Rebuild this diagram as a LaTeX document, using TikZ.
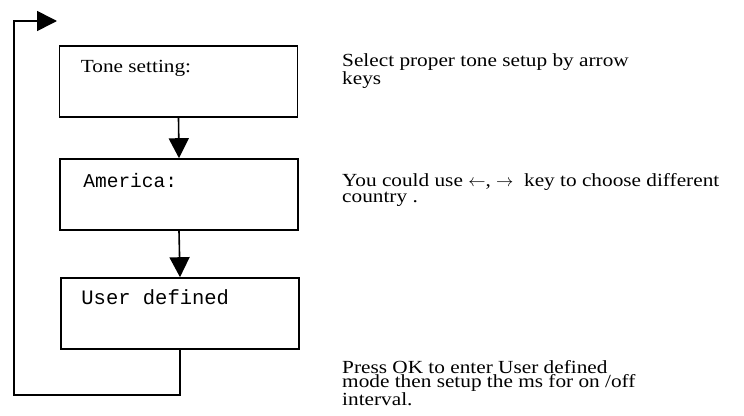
\documentclass[tikz,border=0pt]{standalone}
\usepackage{fontspec}
\setmainfont{Liberation Serif}[FakeStretch=1.15]
\setmonofont{Liberation Mono}
\usetikzlibrary{calc,arrows.meta}

\begin{document}
\begin{tikzpicture}[x=1pt,y=-1pt,
        menubox/.style={draw, line width=1.6pt, minimum width=238pt, minimum height=71pt, inner sep=0pt},
        flow/.style={line width=1.6pt, -{Triangle[length=20pt,width=20pt]}},
        boxtxt/.style={anchor=base west, inner sep=0pt},
        note/.style={anchor=base west, inner sep=0pt, align=left, font=\fontsize{18.5}{14}\selectfont}]
            \useasboundingbox (0,0) rectangle (744,415);

            \node (tone) at (178.5,81.5) [menubox] {};
            \node (america) at (179,194.5) [menubox] {};
            \node (user) at (180,313.5) [menubox] {};

            \node (tonetxt) at ($(tone.north west) + (22,27)$) [boxtxt, font=\fontsize{18.5}{13}\selectfont] {Tone setting:};
            \node (americatxt) at ($(america.north west) + (24,29)$) [boxtxt, font=\ttfamily\fontsize{19.5}{13}\selectfont] {America:};
            \node (usertxt) at ($(user.north west) + (21,27)$) [boxtxt, font=\ttfamily\fontsize{20.5}{13}\selectfont] {User defined};

            \draw [flow] (tone.south) -- (america.north);
            \draw [flow] (america.south) -- (user.north);

            % loop back to the top
            \coordinate (loopb) at (14,395);
            \coordinate (entry) at (57,21);
            \draw [flow] (user.south) |- (loopb) |- (entry);

            % base = last line of each note
            \node (tonenote) at (342,84) [note] {Select proper tone setup by arrow\\keys};
            \node (americanote) at (342,202) [note] {You could use $\leftarrow$, $\rightarrow$\ \ key to choose different\\country .};
            \node (usernote) at (342,405) [note] {Press OK to enter User defined\\mode then setup the ms for on /off\\interval.};

        \end{tikzpicture}
\end{document}
